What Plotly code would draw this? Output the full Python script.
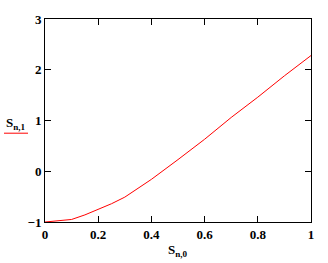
import plotly.graph_objects as go

x_vals = [0.0, 0.02, 0.05, 0.1, 0.15, 0.2, 0.25, 0.3, 0.4, 0.5, 0.6, 0.7, 0.8, 0.9, 1.0]
y_vals = [-1.0, -0.99, -0.98, -0.95, -0.86, -0.75, -0.64, -0.51, -0.16, 0.23, 0.63, 1.06, 1.46, 1.88, 2.28]

x_ticks = [0, 0.2, 0.4, 0.6, 0.8, 1]
x_labels = ["0", "0.2", "0.4", "0.6", "0.8", "1"]
y_ticks = [-1, 0, 1, 2, 3]
y_labels = ["\u22121", "0", "1", "2", "3"]

font = dict(family="Liberation Serif", size=13, color="black")

fig = go.Figure()
fig.add_trace(go.Scatter(x=x_vals, y=y_vals, mode="lines",
                         line=dict(color="red", width=1), showlegend=False))

axis_common = dict(showgrid=False, zeroline=False, showline=True, linecolor="black",
                   linewidth=1, mirror="ticks", ticks="inside", ticklen=6,
                   tickcolor="black", tickwidth=1, tickfont=font)

fig.update_layout(
    width=328, height=263,
    margin=dict(l=45, r=17, t=14, b=41),
    paper_bgcolor="white", plot_bgcolor="white",
    xaxis=dict(range=[0, 1], tickvals=x_ticks, ticktext=["<b>%s</b>" % t for t in x_labels],
               **axis_common),
    yaxis=dict(range=[-1, 3], tickvals=y_ticks, ticktext=["<b>%s</b>" % t for t in y_labels],
               **axis_common),
    annotations=[
        dict(text="<b>S<sub>n,0</sub></b>", x=0.5, xref="paper", y=-0.09, yref="paper",
             yanchor="top", showarrow=False, font=font),
        dict(text="<b>S<sub>n,1</sub></b>", x=-29/266, xref="paper", xanchor="center",
             y=(222-121)/208, yref="paper", yanchor="middle", showarrow=False, font=font),
    ],
)
fig.add_shape(type="line", xref="paper", yref="paper",
              x0=-41/266, x1=-17/266, y0=(222-131)/208, y1=(222-131)/208,
              line=dict(color="red", width=1))

fig.write_html("out.html")
